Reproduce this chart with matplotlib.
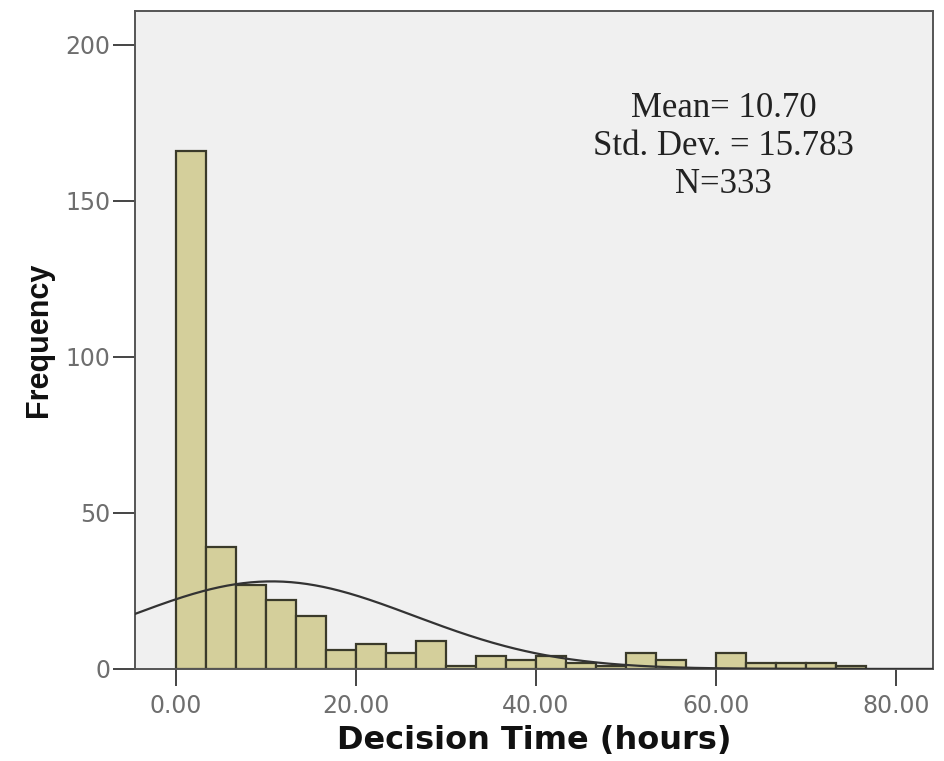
import numpy as np
import matplotlib
matplotlib.use("Agg")
from matplotlib import pyplot as plt

# histogram counts, bins of 3.333 hours starting at 0
bin_width = 40 / 12
counts = [166, 39, 27, 22, 17, 6, 8, 5, 9, 1, 4, 3, 4,
          2, 1, 5, 3, 0, 5, 2, 2, 2, 1]
mean_val = 10.70
std_val = 15.783
n_total = 333
xticks = [0, 20, 40, 60, 80]
yticks = [0, 50, 100, 150, 200]

edges = np.arange(len(counts)) * bin_width

fig = plt.figure(figsize=(9.45, 7.61), dpi=100)
ax = fig.add_axes([0.143, 0.121, 0.844, 0.865])
ax.set_facecolor("#f0f0f0")

ax.bar(edges, counts, width=bin_width, align="edge",
       color="#d4cf9b", edgecolor="#3a3a2a", linewidth=1.6, zorder=2)

# normal curve scaled to counts
xs = np.linspace(-4.5, 84.1, 400)
ys = n_total * bin_width / (std_val * np.sqrt(2 * np.pi)) * np.exp(-(xs - mean_val) ** 2 / (2 * std_val ** 2))
ax.plot(xs, ys, color="#333333", linewidth=1.6, zorder=3)

ax.set_xlim(-4.5, 84.1)
ax.set_ylim(0, 211)
ax.set_xticks(xticks)
ax.set_xticklabels([f"{t:.2f}" for t in xticks])
ax.set_yticks(yticks)

for s in ax.spines.values():
    s.set_color("#555555")
    s.set_linewidth(1.4)
ax.tick_params(axis="y", direction="out", length=16, width=1.4,
               color="#444444", labelcolor="#6e6e6e", labelsize=17, pad=2)
ax.tick_params(axis="x", direction="out", length=12, width=1.4,
               color="#444444", labelcolor="#6e6e6e", labelsize=17, pad=6)
for lab in ax.get_xticklabels() + ax.get_yticklabels():
    lab.set_family("DejaVu Sans")

ax.set_xlabel("Decision Time (hours)", fontsize=23, fontweight="bold",
              family="DejaVu Sans", labelpad=5, color="#111111")
ax.set_ylabel("Frequency", fontsize=22, fontweight="bold",
              family="Liberation Sans", labelpad=8, color="#111111")

ax.text(0.738, 0.793, f"Mean= {mean_val:.2f}\nStd. Dev. = {std_val:.3f}\nN={n_total}",
        transform=ax.transAxes, ha="center", va="center", fontsize=25,
        family="Liberation Serif", color="#222222", linespacing=1.2)

fig.savefig("out.png", dpi=100)
